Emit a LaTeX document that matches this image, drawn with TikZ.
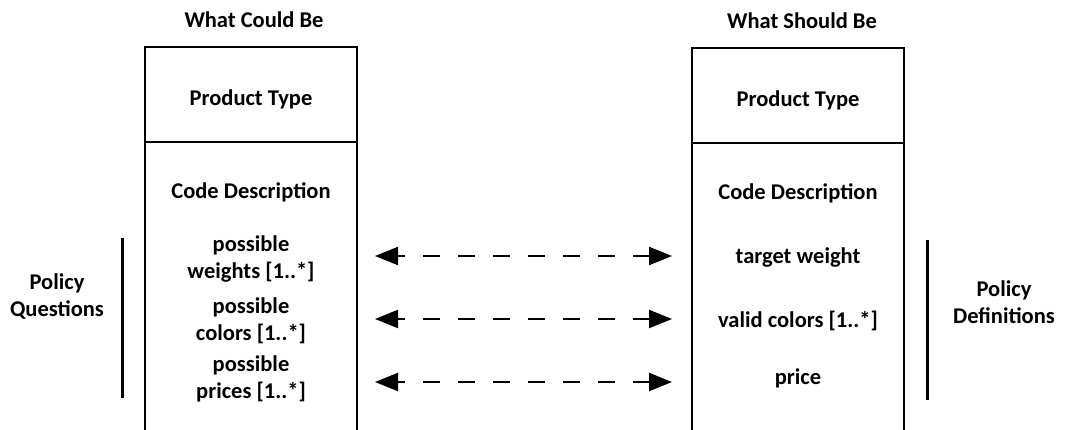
\documentclass[tikz,border=0pt]{standalone}
\usepackage{fontspec}
\setmainfont{Carlito}
\usetikzlibrary{arrows.meta}
\begin{document}
\begin{tikzpicture}[x=1pt,y=-1pt,
  lbl/.style={font=\fontsize{22.5}{27}\selectfont\bfseries, align=center, inner sep=0pt},
  boxline/.style={line width=1.6pt},
  bar/.style={line width=3pt},
  link/.style={line width=2.2pt, dash pattern=on 17pt off 18pt, dash phase=9pt,
    {Triangle[length=23pt,width=18pt]}-{Triangle[length=23pt,width=18pt]}}]
\fill[white] (0,0) rectangle (1067,430);
\useasboundingbox (0,0) rectangle (1067,430);
\clip (0,0) rectangle (1067,430);
% left box
\draw[boxline] (145,440) -- (145,47) -- (357,47) -- (357,440);
\draw[boxline] (145,142) -- (357,142);
% right box
\draw[boxline] (692,440) -- (692,48) -- (904,48) -- (904,440);
\draw[boxline] (692,143) -- (904,143);
% titles
\node[lbl] (tl) at (254,20) {What Could Be};
\node[lbl] (tr) at (802,21) {What Should Be};
\node[lbl] (pl) at (251,99) {Product Type};
\node[lbl] (pr) at (798,100) {Product Type};
\node[lbl] (cl) at (251,192) {Code Description};
\node[lbl] (cr) at (798,193) {Code Description};
% left items
\node[lbl] (l1) at (251,259) {possible\\weights [1..*]};
\node[lbl] (l2) at (251,321) {possible\\colors [1..*]};
\node[lbl] (l3) at (251,379) {possible\\prices [1..*]};
% right items
\node[lbl] (r1) at (798,258) {target weight};
\node[lbl] (r2) at (798,321) {valid colors [1..*]};
\node[lbl] (r3) at (798,378) {price};
% side labels
\node[lbl] (pq) at (57,297) {Policy\\Questions};
\node[lbl] (pd) at (1004,302) {Policy\\Definitions};
\coordinate (b1t) at (122,238); \coordinate (b1b) at (122,398);
\coordinate (b2t) at (927,240); \coordinate (b2b) at (927,400);
\draw[bar] (b1t) -- (b1b);
\draw[bar] (b2t) -- (b2b);
% arrows
\coordinate (a1l) at (375,256); \coordinate (a1r) at (672,256);
\coordinate (a2l) at (375,319); \coordinate (a2r) at (672,319);
\coordinate (a3l) at (375,382); \coordinate (a3r) at (672,382);
\draw[link] (a1l) -- (a1r);
\draw[link] (a2l) -- (a2r);
\draw[link] (a3l) -- (a3r);
\end{tikzpicture}
\end{document}
